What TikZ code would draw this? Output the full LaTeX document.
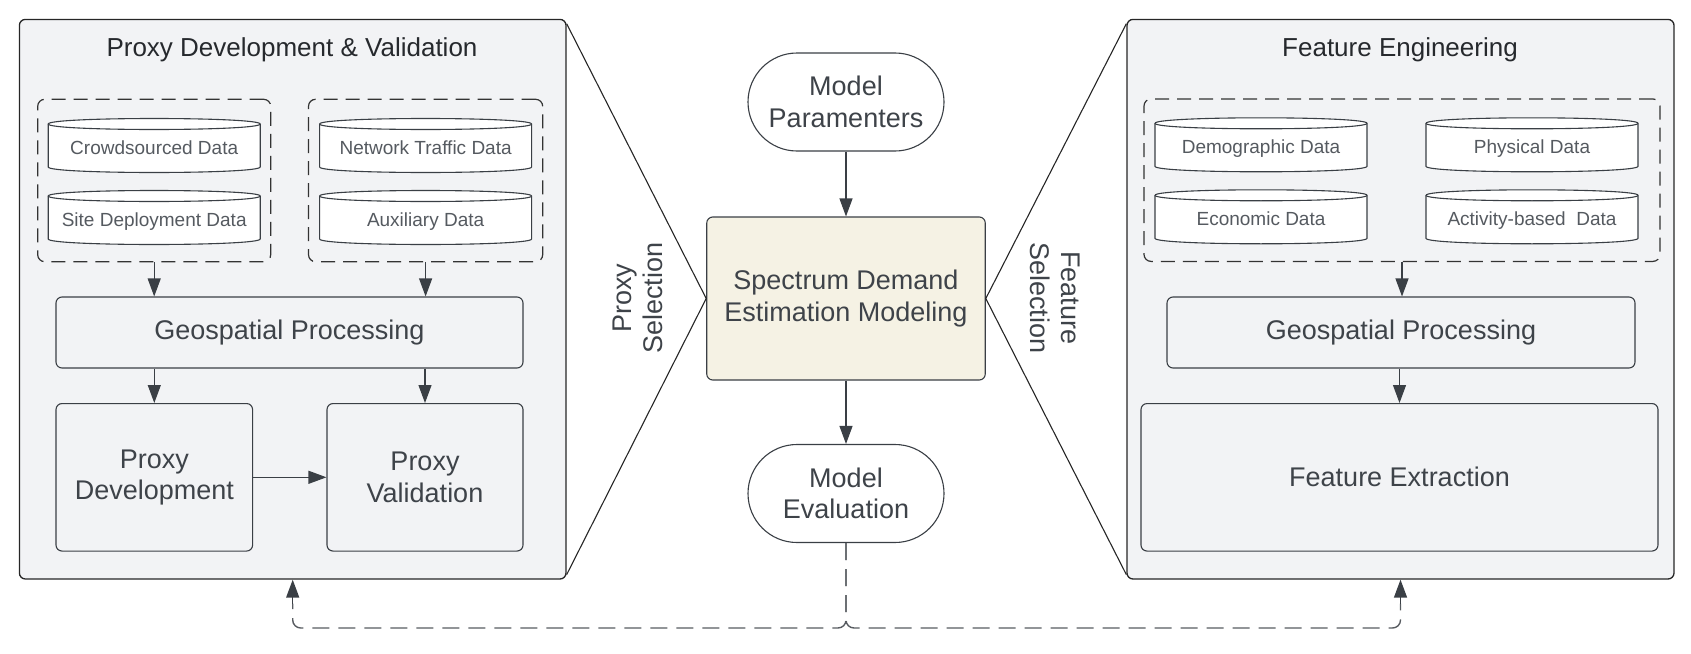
\documentclass[tikz,border=0pt]{standalone}
\usepackage{fontspec}
\setmainfont{Liberation Sans}
\usetikzlibrary{arrows.meta}
\definecolor{panelfill}{HTML}{F2F3F5}
\definecolor{linec}{HTML}{3A3F45}
\definecolor{txt}{HTML}{3E4349}
\definecolor{titletxt}{HTML}{26292D}
\definecolor{cyltxt}{HTML}{555A60}
\definecolor{cream}{HTML}{F5F2E4}
\begin{document}
\begin{tikzpicture}[x=1pt,y=-1pt,
  panel/.style={draw=black!85, line width=1.3pt, fill=panelfill, rounded corners=6pt, inner sep=0pt},
  grp/.style={draw=black!80, line width=1.2pt, dash pattern=on 14pt off 8pt, rounded corners=7pt, inner sep=0pt},
  box/.style={draw=linec, line width=1.1pt, fill=panelfill, rounded corners=6pt, inner sep=0pt, text=txt, font=\fontsize{27}{31.5}\selectfont, align=center},
  stadium/.style={draw=linec, line width=1.1pt, fill=white, rounded corners=49pt, inner sep=0pt, minimum width=196pt, minimum height=98pt, text=txt, font=\fontsize{27}{31.5}\selectfont, align=center},
  cylline/.style={draw=linec, line width=1.1pt, fill=white},
  cyl/.style={inner sep=0pt, minimum width=214pt, minimum height=56pt, fill=panelfill, text=cyltxt, font=\fontsize{19}{22}\selectfont, text height=20pt, text depth=1.8pt,
    path picture={
      \filldraw[cylline] ([xshift=1pt,yshift=-6.5pt]path picture bounding box.north west)
        .. controls ([xshift=1pt,yshift=0.83pt]path picture bounding box.north west) and ([xshift=-1pt,yshift=0.83pt]path picture bounding box.north east) ..
        ([xshift=-1pt,yshift=-6.5pt]path picture bounding box.north east)
        -- ([xshift=-1pt,yshift=6.5pt]path picture bounding box.south east)
        .. controls ([xshift=-1pt,yshift=-0.83pt]path picture bounding box.south east) and ([xshift=1pt,yshift=-0.83pt]path picture bounding box.south west) ..
        ([xshift=1pt,yshift=6.5pt]path picture bounding box.south west) -- cycle;
      \draw[cylline, fill=none] ([xshift=1pt,yshift=-6.5pt]path picture bounding box.north west)
        .. controls ([xshift=1pt,yshift=-13.83pt]path picture bounding box.north west) and ([xshift=-1pt,yshift=-13.83pt]path picture bounding box.north east) ..
        ([xshift=-1pt,yshift=-6.5pt]path picture bounding box.north east);
    }},
  arr/.style={draw=linec, line width=1.1pt, -{Triangle[length=18pt,width=13pt]}},
  fb/.style={draw=linec!85, line width=1.4pt, dash pattern=on 17pt off 9pt, rounded corners=8pt},
  trap/.style={draw=black!85, line width=1.1pt},
  ptitle/.style={text=titletxt, font=\fontsize{26}{30}\selectfont},
  sel/.style={text=txt, font=\fontsize{27}{31.5}\selectfont, align=center}
]
\useasboundingbox (0,0) rectangle (1691,653);

% panels
\node[panel, minimum width=546.6pt, minimum height=559.6pt] (lp) at (292.7,299.2) {};
\node[panel, minimum width=547pt, minimum height=559.6pt] (rp) at (1400.5,299.2) {};
\node[ptitle] (lt) at (292,50) {Proxy Development \& Validation};
\node[ptitle] (rt) at (1400,50) {Feature Engineering};

% left dashed groups and cylinders
\node[grp, minimum width=233pt, minimum height=162.4pt] (g1) at (154.2,180.5) {};
\node[grp, minimum width=234.2pt, minimum height=162.4pt] (g2) at (425.6,180.5) {};
\node[cyl] (c1) at (154.2,145.5) {Crowdsourced Data};
\node[cyl] (c2) at (154.2,217.5) {Site Deployment Data};
\node[cyl] (c3) at (425.6,145.5) {Network Traffic Data};
\node[cyl] (c4) at (425.6,217.5) {Auxiliary Data};

% left boxes
\node[box, minimum width=467pt, minimum height=71pt] (geo1) at (289.5,332.5) {Geospatial Processing};
\node[box, minimum width=196.6pt, minimum height=147.5pt] (pd) at (154.3,477.3) {Proxy\\Development};
\node[box, minimum width=196pt, minimum height=147.5pt] (pv) at (425,477.3) {Proxy\\Validation};

% right dashed group and cylinders
\node[grp, minimum width=516pt, minimum height=162.4pt] (g3) at (1402,180.2) {};
\node[cyl] (c5) at (1261,144.8) {Demographic Data};
\node[cyl] (c6) at (1532,144.8) {Physical Data};
\node[cyl] (c7) at (1261,216.8) {Economic Data};
\node[cyl] (c8) at (1532,216.8) {Activity-based\ \ Data};

% right boxes
\node[box, minimum width=468pt, minimum height=71pt] (geo2) at (1401,332.5) {Geospatial Processing};
\node[box, minimum width=517pt, minimum height=147.5pt] (fe) at (1399.5,477.3) {Feature Extraction};

% center
\node[stadium] (mp) at (846,102) {Model\\Paramenters};
\node[box, fill=cream, minimum width=278.5pt, minimum height=163pt] (sd) at (846,298.5) {Spectrum Demand\\Estimation Modeling};
\node[stadium] (me) at (846,493.5) {Model\\Evaluation};

\node[sel, rotate=90] (ps) at (638,298) {Proxy\\Selection};
\node[sel, rotate=-90] (fs) at (1055,298) {Feature\\Selection};

% trapezoid lines
\draw[trap] ([yshift=-5pt]lp.north east) -- (sd.west) -- ([yshift=5pt]lp.south east);
\draw[trap] ([yshift=-5pt]rp.north west) -- (sd.east) -- ([yshift=5pt]rp.south west);

% arrows
\draw[arr] (g1.south) -- (g1.south |- geo1.north);
\draw[arr] (g2.south) -- (g2.south |- geo1.north);
\draw[arr] (geo1.south -| pd.north) -- (pd.north);
\draw[arr] (geo1.south -| pv.north) -- (pv.north);
\draw[arr] (pd.east) -- (pv.west);
\draw[arr] (g3.south) -- (g3.south |- geo2.north);
\draw[arr] (geo2.south -| fe.north) -- (fe.north);
\draw[arr] (mp.south) -- (sd.north);
\draw[arr] (sd.south) -- (me.north);

% feedback
\coordinate (fbj) at (846,628);
\draw[fb] (me.south) -- (fbj) -| ([yshift=-24pt]lp.south);
\draw[fb] (me.south) -- (fbj) -| ([yshift=-24pt]rp.south);
\draw[arr, line width=1.4pt] ([yshift=-24pt]lp.south) -- (lp.south);
\draw[arr, line width=1.4pt] ([yshift=-24pt]rp.south) -- (rp.south);
\end{tikzpicture}
\end{document}
